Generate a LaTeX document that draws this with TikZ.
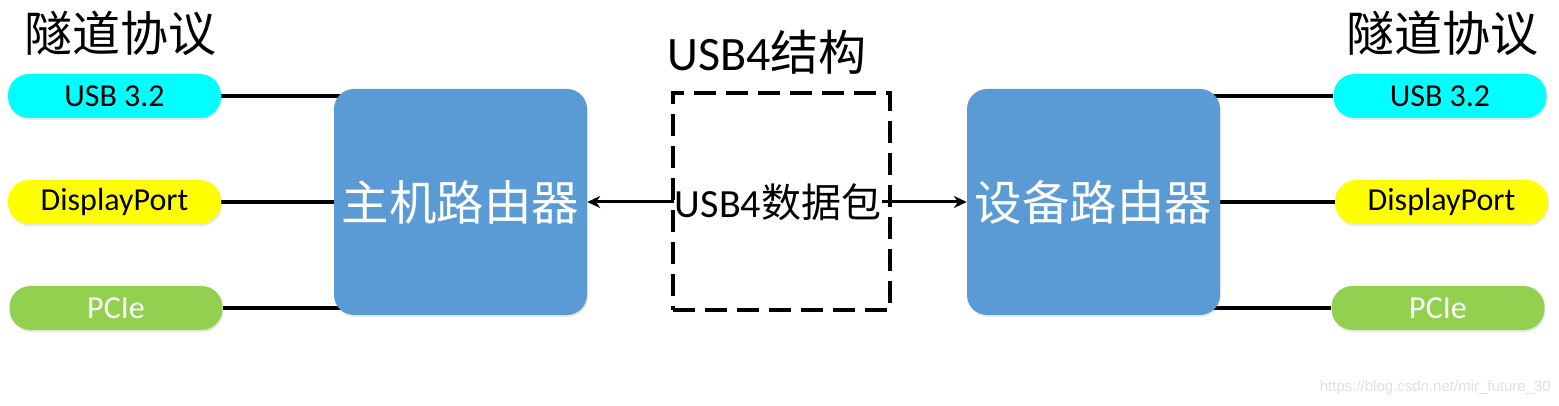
\documentclass[tikz,border=0pt]{standalone}
\usepackage{fontspec}
\setmainfont{Carlito}
\newfontfamily\cjk{Noto Sans CJK SC}
\newfontfamily\wmfont{Liberation Sans}
\usetikzlibrary{arrows.meta,shadows,backgrounds}
\definecolor{routerblue}{HTML}{5B9BD5}
\definecolor{pcgreen}{HTML}{92D050}
\definecolor{pillcyan}{HTML}{00FFFF}
\definecolor{pillyellow}{HTML}{FFFF00}
\tikzset{
  pill/.style={rectangle, rounded corners=21pt, minimum width=213pt, minimum height=44pt, inner sep=0pt,
    font=\fontsize{32}{34}\selectfont, drop shadow={opacity=0.18, shadow xshift=1pt, shadow yshift=-2pt}},
  router/.style={rectangle, rounded corners=20pt, fill=routerblue, minimum width=253pt, minimum height=226pt,
    inner sep=0pt, text=white, font=\fontsize{47.5}{50}\selectfont\cjk,
    drop shadow={opacity=0.15, shadow xshift=1pt, shadow yshift=-2pt}},
  link/.style={draw=black, line width=3.2pt},
  pktarrow/.style={draw=black, line width=3pt, -{Stealth[length=13pt,width=12pt]}},
  dashbox/.style={draw=black, line width=3.2pt, dash pattern=on 22pt off 10pt, minimum width=217pt, minimum height=217pt, inner sep=0pt},
  bigtitle/.style={font=\fontsize{48}{50}\selectfont, inner sep=0pt}
}
\begin{document}
\begin{tikzpicture}[x=1pt,y=-1pt]
\useasboundingbox (0,0) rectangle (1559,406);
% titles
\node[bigtitle] (tl) at (120,33) {\cjk 隧道协议};
\node[bigtitle] (tr) at (1442,33) {\cjk 隧道协议};
\node[bigtitle] (ts) at (767,52) {USB4\cjk 结构};
% pills left
\node[pill, fill=pillcyan] (usbL) at (114.5,96) {USB 3.2};
\node[pill, fill=pillyellow] (dpL) at (114.5,202) {DisplayPort};
\node[pill, fill=pcgreen, text=white] (pcL) at (116,308) {PCIe};
% pills right
\node[pill, fill=pillcyan] (usbR) at (1440,96) {USB 3.2};
\node[pill, fill=pillyellow] (dpR) at (1441.5,202) {DisplayPort};
\node[pill, fill=pcgreen, text=white] (pcR) at (1438,308) {PCIe};
% routers
\node[router] (host) at (460.5,202) {主机路由器};
\node[router] (dev) at (1093.5,202) {设备路由器};
% dashed box
\node[dashbox] (box) at (781.5,201.5) {};
\node[font=\fontsize{40}{44}\selectfont, inner sep=1pt] (pkt) at (778,202) {USB4\cjk 数据包};
% connectors
\begin{pgfonlayer}{background}
\draw[link] (usbL.east) -- (host.center |- usbL.east);
\draw[link] (dpL.east) -- (host.center |- dpL.east);
\draw[link] (pcL.east) -- (host.center |- pcL.east);
\draw[link] (usbR.west) -- (dev.center |- usbR.west);
\draw[link] (dpR.west) -- (dev.center |- dpR.west);
\draw[link] (pcR.west) -- (dev.center |- pcR.west);
\end{pgfonlayer}
\draw[pktarrow] (pkt.west) -- (pkt.west -| host.east);
\draw[pktarrow] (pkt.east) -- (pkt.east -| dev.west);
% watermark
\node[font=\wmfont\fontsize{15}{17}\selectfont, text=black!12, anchor=east, inner sep=0pt] (wm) at (1551,388) {https://blog.csdn.net/mir\_future\_30};
\end{tikzpicture}
\end{document}
